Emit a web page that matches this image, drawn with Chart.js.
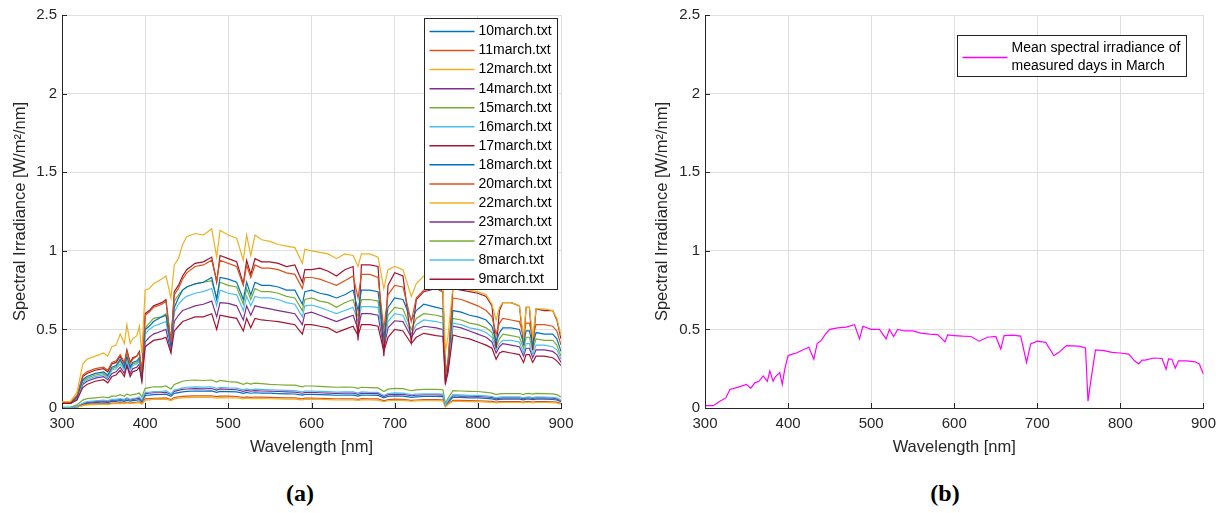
<!DOCTYPE html>
<html>
<head>
<meta charset="utf-8">
<script src="https://cdn.jsdelivr.net/npm/chart.js@4.4.1/dist/chart.umd.min.js"></script>
<style>
  body {
    margin: 0;
    background: #fff;
    width: 1223px;
    height: 513px;
    position: relative;
    overflow: hidden;
  }
  #panel-a { position: absolute; left: 0; top: 0; }
  #panel-b { position: absolute; left: 640px; top: 0; }
  .caption {
    position: absolute;
    top: 481px;
    transform: translateX(-50%);
    font: bold 24px "Liberation Serif", "DejaVu Serif", serif;
    line-height: 1;
    color: #000;
  }
</style>
</head>
<body>
<canvas id="panel-a" width="600" height="460"></canvas>
<canvas id="panel-b" width="583" height="460"></canvas>
<div class="caption" style="left:300px">(a)</div>
<div class="caption" style="left:945px">(b)</div>

<script>
// wavelength grid [nm]
const wavelengths = [
  300, 310, 318, 325, 330, 340, 350, 355, 360, 365,
  370, 375, 378, 382, 385, 390, 393, 396, 400, 405,
  410, 420, 425, 431, 435, 440, 445, 450, 460, 470,
  480, 486, 490, 500, 510, 518, 522, 527, 532, 540,
  550, 560, 570, 580, 589, 592, 600, 610, 620, 630,
  640, 650, 656, 660, 670, 680, 687, 692, 700, 710,
  720, 726, 735, 750, 758, 761, 764, 770, 780, 790,
  800, 810, 817, 822, 826, 830, 840, 850, 855, 858,
  862, 866, 870, 880, 890, 895, 900,
];

// spectral irradiance per measured day [W/m2/nm]
const march10 = [
  0.002, 0.002, 0.008, 0.024, 0.03, 0.034, 0.038, 0.034, 0.042, 0.042,
  0.047, 0.042, 0.05, 0.043, 0.047, 0.05, 0.053, 0.038, 0.08, 0.082,
  0.085, 0.086, 0.088, 0.074, 0.093, 0.098, 0.103, 0.106, 0.108, 0.107,
  0.109, 0.1, 0.106, 0.104, 0.102, 0.093, 0.099, 0.094, 0.097, 0.095,
  0.094, 0.092, 0.09, 0.089, 0.082, 0.087, 0.087, 0.085, 0.083, 0.081,
  0.082, 0.082, 0.076, 0.082, 0.081, 0.08, 0.064, 0.074, 0.077, 0.076,
  0.068, 0.071, 0.073, 0.073, 0.072, 0.015, 0.035, 0.068, 0.067, 0.065,
  0.064, 0.061, 0.058, 0.052, 0.055, 0.057, 0.057, 0.057, 0.052, 0.056,
  0.057, 0.053, 0.057, 0.056, 0.054, 0.051, 0.04,
];
const march11 = [
  0.001, 0.001, 0.006, 0.018, 0.023, 0.026, 0.028, 0.026, 0.031, 0.031,
  0.035, 0.031, 0.037, 0.032, 0.035, 0.037, 0.039, 0.028, 0.058, 0.06,
  0.062, 0.063, 0.064, 0.054, 0.067, 0.071, 0.074, 0.076, 0.077, 0.077,
  0.078, 0.072, 0.076, 0.075, 0.073, 0.067, 0.071, 0.068, 0.07, 0.069,
  0.068, 0.066, 0.065, 0.064, 0.059, 0.063, 0.063, 0.062, 0.06, 0.059,
  0.059, 0.059, 0.055, 0.059, 0.058, 0.058, 0.046, 0.053, 0.056, 0.055,
  0.049, 0.051, 0.053, 0.053, 0.052, 0.01, 0.025, 0.049, 0.048, 0.047,
  0.046, 0.044, 0.042, 0.037, 0.04, 0.041, 0.041, 0.041, 0.037, 0.04,
  0.041, 0.038, 0.041, 0.04, 0.039, 0.037, 0.029,
];
const march12 = [
  0.001, 0.001, 0.005, 0.015, 0.02, 0.022, 0.024, 0.022, 0.027, 0.027,
  0.03, 0.027, 0.032, 0.028, 0.03, 0.032, 0.034, 0.024, 0.05, 0.052,
  0.054, 0.055, 0.056, 0.047, 0.058, 0.062, 0.065, 0.066, 0.067, 0.067,
  0.068, 0.063, 0.066, 0.065, 0.064, 0.058, 0.062, 0.059, 0.061, 0.06,
  0.059, 0.058, 0.057, 0.056, 0.052, 0.055, 0.055, 0.054, 0.053, 0.051,
  0.052, 0.052, 0.048, 0.052, 0.051, 0.05, 0.04, 0.046, 0.049, 0.048,
  0.043, 0.045, 0.046, 0.046, 0.045, 0.008, 0.022, 0.043, 0.042, 0.041,
  0.04, 0.038, 0.036, 0.032, 0.034, 0.035, 0.035, 0.035, 0.032, 0.035,
  0.035, 0.033, 0.035, 0.035, 0.034, 0.032, 0.025,
];
const march14 = [
  0.03, 0.03, 0.055, 0.15, 0.17, 0.19, 0.2, 0.18, 0.22, 0.23,
  0.26, 0.22, 0.28, 0.22, 0.25, 0.26, 0.28, 0.18, 0.42, 0.45,
  0.47, 0.49, 0.5, 0.36, 0.55, 0.59, 0.62, 0.63, 0.65, 0.66,
  0.68, 0.58, 0.67, 0.665, 0.65, 0.56, 0.65, 0.59, 0.65, 0.64,
  0.63, 0.62, 0.61, 0.6, 0.53, 0.6, 0.61, 0.59, 0.57, 0.55,
  0.57, 0.59, 0.5, 0.6, 0.6, 0.59, 0.38, 0.51, 0.555, 0.55,
  0.45, 0.5, 0.52, 0.51, 0.5, 0.18, 0.24, 0.52, 0.51, 0.49,
  0.47, 0.45, 0.42, 0.35, 0.39, 0.41, 0.4, 0.39, 0.33, 0.38,
  0.38, 0.32, 0.37, 0.37, 0.36, 0.34, 0.29,
];
const march15 = [
  0.03, 0.03, 0.065, 0.17, 0.19, 0.21, 0.22, 0.2, 0.25, 0.26,
  0.3, 0.25, 0.32, 0.25, 0.28, 0.29, 0.31, 0.2, 0.51, 0.54,
  0.57, 0.58, 0.6, 0.44, 0.68, 0.72, 0.75, 0.77, 0.79, 0.8,
  0.81, 0.7, 0.8, 0.78, 0.77, 0.66, 0.76, 0.69, 0.76, 0.74,
  0.74, 0.73, 0.71, 0.7, 0.62, 0.69, 0.7, 0.68, 0.67, 0.64,
  0.67, 0.69, 0.58, 0.69, 0.69, 0.68, 0.42, 0.59, 0.64, 0.63,
  0.5, 0.57, 0.6, 0.59, 0.58, 0.2, 0.26, 0.57, 0.56, 0.54,
  0.53, 0.51, 0.48, 0.39, 0.44, 0.47, 0.46, 0.45, 0.38, 0.45,
  0.45, 0.37, 0.44, 0.43, 0.43, 0.4, 0.33,
];
const march16 = [
  0.03, 0.03, 0.06, 0.16, 0.18, 0.2, 0.21, 0.19, 0.24, 0.25,
  0.28, 0.24, 0.3, 0.24, 0.27, 0.28, 0.3, 0.19, 0.47, 0.5,
  0.52, 0.54, 0.55, 0.38, 0.61, 0.66, 0.69, 0.71, 0.73, 0.74,
  0.76, 0.65, 0.75, 0.73, 0.72, 0.62, 0.71, 0.65, 0.71, 0.7,
  0.7, 0.69, 0.67, 0.66, 0.58, 0.65, 0.655, 0.64, 0.62, 0.6,
  0.62, 0.64, 0.55, 0.645, 0.645, 0.64, 0.4, 0.55, 0.6, 0.59,
  0.47, 0.53, 0.56, 0.55, 0.54, 0.19, 0.25, 0.54, 0.53, 0.51,
  0.5, 0.48, 0.45, 0.37, 0.41, 0.43, 0.43, 0.42, 0.35, 0.41,
  0.41, 0.34, 0.4, 0.4, 0.39, 0.37, 0.31,
];
const march17 = [
  0.03, 0.03, 0.07, 0.2, 0.22, 0.24, 0.25, 0.23, 0.28, 0.29,
  0.33, 0.28, 0.37, 0.29, 0.32, 0.33, 0.36, 0.22, 0.6, 0.62,
  0.65, 0.67, 0.69, 0.4, 0.74, 0.78, 0.84, 0.88, 0.92, 0.93,
  0.96, 0.8, 0.97, 0.95, 0.93, 0.79, 0.94, 0.85, 0.95, 0.93,
  0.93, 0.92, 0.9, 0.91, 0.8, 0.88, 0.88, 0.89, 0.87, 0.84,
  0.88, 0.9, 0.43, 0.91, 0.91, 0.9, 0.33, 0.78, 0.86, 0.84,
  0.42, 0.69, 0.74, 0.76, 0.74, 0.15, 0.25, 0.76, 0.75, 0.74,
  0.73, 0.71, 0.65, 0.38, 0.62, 0.67, 0.67, 0.65, 0.4, 0.64,
  0.64, 0.37, 0.63, 0.62, 0.62, 0.56, 0.44,
];
const march18 = [
  0.03, 0.03, 0.07, 0.18, 0.2, 0.22, 0.23, 0.21, 0.26, 0.27,
  0.31, 0.26, 0.33, 0.26, 0.29, 0.3, 0.32, 0.21, 0.5, 0.52,
  0.55, 0.58, 0.59, 0.39, 0.64, 0.7, 0.75, 0.77, 0.79, 0.8,
  0.83, 0.69, 0.83, 0.82, 0.8, 0.69, 0.8, 0.72, 0.8, 0.78,
  0.78, 0.77, 0.75, 0.75, 0.66, 0.74, 0.75, 0.73, 0.72, 0.7,
  0.72, 0.75, 0.62, 0.75, 0.75, 0.74, 0.45, 0.64, 0.7, 0.69,
  0.56, 0.62, 0.66, 0.64, 0.63, 0.22, 0.28, 0.62, 0.61, 0.59,
  0.58, 0.56, 0.52, 0.42, 0.48, 0.51, 0.51, 0.5, 0.41, 0.49,
  0.49, 0.4, 0.48, 0.47, 0.47, 0.44, 0.36,
];
const march20 = [
  0.035, 0.035, 0.08, 0.21, 0.23, 0.25, 0.26, 0.24, 0.29, 0.3,
  0.34, 0.29, 0.36, 0.28, 0.31, 0.33, 0.35, 0.23, 0.59, 0.61,
  0.64, 0.66, 0.68, 0.42, 0.72, 0.76, 0.82, 0.86, 0.9, 0.91,
  0.94, 0.81, 0.94, 0.92, 0.9, 0.78, 0.91, 0.83, 0.91, 0.89,
  0.89, 0.88, 0.86, 0.85, 0.76, 0.83, 0.83, 0.82, 0.8, 0.78,
  0.81, 0.84, 0.7, 0.85, 0.85, 0.83, 0.5, 0.72, 0.78, 0.77,
  0.55, 0.7, 0.75, 0.76, 0.74, 0.22, 0.3, 0.7, 0.69, 0.67,
  0.65, 0.62, 0.58, 0.47, 0.54, 0.57, 0.56, 0.55, 0.46, 0.54,
  0.54, 0.45, 0.53, 0.53, 0.52, 0.49, 0.4,
];
const march22 = [
  0.04, 0.04, 0.1, 0.28, 0.31, 0.33, 0.35, 0.33, 0.39, 0.4,
  0.47, 0.41, 0.53, 0.41, 0.44, 0.46, 0.52, 0.35, 0.75, 0.76,
  0.79, 0.82, 0.84, 0.7, 0.91, 0.95, 1.04, 1.09, 1.11, 1.1,
  1.14, 0.96, 1.13, 1.1, 1.08, 0.94, 1.1, 0.97, 1.1, 1.07,
  1.06, 1.04, 1.03, 1.02, 0.92, 1.01, 1.0, 0.99, 0.98, 0.95,
  0.98, 0.97, 0.9, 0.98, 0.98, 0.96, 0.76, 0.88, 0.9, 0.88,
  0.71, 0.79, 0.84, 0.82, 0.78, 0.36, 0.45, 0.77, 0.76, 0.75,
  0.74, 0.72, 0.66, 0.56, 0.64, 0.67, 0.67, 0.65, 0.45, 0.64,
  0.64, 0.45, 0.63, 0.63, 0.62, 0.57, 0.46,
];
const march23 = [
  0.002, 0.002, 0.01, 0.028, 0.036, 0.04, 0.045, 0.04, 0.05, 0.05,
  0.055, 0.05, 0.06, 0.05, 0.055, 0.06, 0.063, 0.045, 0.092, 0.094,
  0.097, 0.098, 0.1, 0.085, 0.106, 0.112, 0.118, 0.121, 0.123, 0.122,
  0.124, 0.114, 0.121, 0.118, 0.116, 0.106, 0.112, 0.107, 0.11, 0.108,
  0.107, 0.105, 0.103, 0.101, 0.094, 0.099, 0.099, 0.097, 0.095, 0.093,
  0.094, 0.094, 0.087, 0.094, 0.092, 0.091, 0.073, 0.085, 0.088, 0.087,
  0.078, 0.081, 0.083, 0.083, 0.082, 0.018, 0.04, 0.078, 0.076, 0.075,
  0.073, 0.07, 0.067, 0.06, 0.063, 0.065, 0.065, 0.065, 0.06, 0.064,
  0.065, 0.061, 0.065, 0.064, 0.062, 0.058, 0.046,
];
const march27 = [
  0.005, 0.005, 0.02, 0.05, 0.06, 0.065, 0.07, 0.065, 0.075, 0.075,
  0.085, 0.075, 0.09, 0.08, 0.085, 0.09, 0.095, 0.07, 0.125, 0.13,
  0.135, 0.135, 0.14, 0.12, 0.15, 0.16, 0.17, 0.175, 0.178, 0.175,
  0.178, 0.165, 0.175, 0.168, 0.165, 0.15, 0.16, 0.152, 0.158, 0.155,
  0.15, 0.148, 0.146, 0.145, 0.135, 0.14, 0.14, 0.138, 0.135, 0.132,
  0.133, 0.132, 0.125, 0.132, 0.13, 0.128, 0.105, 0.12, 0.125, 0.123,
  0.11, 0.115, 0.118, 0.118, 0.116, 0.03, 0.06, 0.11, 0.108, 0.106,
  0.105, 0.1, 0.095, 0.085, 0.09, 0.092, 0.092, 0.092, 0.085, 0.092,
  0.093, 0.088, 0.093, 0.092, 0.09, 0.085, 0.07,
];
const march8 = [
  0.002, 0.002, 0.01, 0.03, 0.04, 0.045, 0.05, 0.045, 0.055, 0.055,
  0.06, 0.055, 0.065, 0.055, 0.06, 0.065, 0.07, 0.05, 0.1, 0.1,
  0.105, 0.105, 0.11, 0.09, 0.115, 0.12, 0.128, 0.132, 0.134, 0.133,
  0.135, 0.125, 0.132, 0.128, 0.126, 0.115, 0.122, 0.116, 0.12, 0.118,
  0.116, 0.114, 0.112, 0.11, 0.102, 0.108, 0.108, 0.106, 0.104, 0.101,
  0.102, 0.102, 0.095, 0.102, 0.1, 0.099, 0.08, 0.092, 0.096, 0.095,
  0.085, 0.088, 0.09, 0.09, 0.089, 0.02, 0.045, 0.085, 0.083, 0.081,
  0.08, 0.077, 0.073, 0.065, 0.069, 0.071, 0.071, 0.071, 0.065, 0.07,
  0.071, 0.067, 0.071, 0.07, 0.068, 0.064, 0.05,
];
const march9 = [
  0.03, 0.03, 0.05, 0.13, 0.15, 0.17, 0.18, 0.16, 0.2, 0.21,
  0.24, 0.2, 0.27, 0.2, 0.23, 0.24, 0.26, 0.17, 0.39, 0.41,
  0.43, 0.44, 0.45, 0.35, 0.49, 0.52, 0.55, 0.56, 0.58, 0.58,
  0.6, 0.5, 0.59, 0.58, 0.57, 0.49, 0.57, 0.51, 0.57, 0.56,
  0.555, 0.55, 0.54, 0.53, 0.47, 0.53, 0.53, 0.52, 0.51, 0.48,
  0.5, 0.52, 0.46, 0.53, 0.53, 0.52, 0.36, 0.45, 0.5, 0.49,
  0.41, 0.45, 0.475, 0.46, 0.455, 0.16, 0.22, 0.465, 0.45, 0.44,
  0.42, 0.4, 0.38, 0.31, 0.35, 0.36, 0.35, 0.34, 0.29, 0.34,
  0.34, 0.29, 0.33, 0.33, 0.32, 0.3, 0.27,
];

// mean over all measured days
const marchMean = [
  0.015, 0.015, 0.043, 0.064, 0.118, 0.133, 0.15, 0.125, 0.16, 0.17,
  0.204, 0.17, 0.236, 0.17, 0.2, 0.225, 0.15, 0.247, 0.333, 0.343,
  0.35, 0.375, 0.386, 0.31, 0.41, 0.43, 0.47, 0.5, 0.51, 0.515,
  0.53, 0.44, 0.52, 0.5, 0.5, 0.44, 0.5, 0.455, 0.5, 0.49,
  0.49, 0.476, 0.47, 0.467, 0.42, 0.465, 0.461, 0.457, 0.455, 0.425,
  0.45, 0.455, 0.375, 0.461, 0.463, 0.457, 0.29, 0.408, 0.425, 0.418,
  0.333, 0.354, 0.397, 0.393, 0.382, 0.043, 0.16, 0.37, 0.365, 0.354,
  0.35, 0.343, 0.3, 0.28, 0.305, 0.305, 0.318, 0.315, 0.247, 0.312,
  0.31, 0.253, 0.3, 0.3, 0.294, 0.28, 0.215,
];

const fileNames = [
  "10march.txt", "11march.txt", "12march.txt", "14march.txt", "15march.txt",
  "16march.txt", "17march.txt", "18march.txt", "20march.txt", "22march.txt",
  "23march.txt", "27march.txt", "8march.txt", "9march.txt",
];
const daySeries = [
  march10, march11, march12, march14, march15, march16, march17,
  march18, march20, march22, march23, march27, march8, march9,
];
const meanLabel = ["Mean spectral irradiance of", "measured days in March"];

// matlab default colour order
const lineColors = ["#0072BD", "#D95319", "#EDB120", "#7E2F8E", "#77AC30", "#4DBEEE", "#A2142F"];

const xTicks = [300, 400, 500, 600, 700, 800, 900];
const yTicks = [0, 0.5, 1, 1.5, 2, 2.5];

const FONT = '"Liberation Sans", Arial, sans-serif';
const AXIS_COLOR = "#262626";

const toPoints = (values) => wavelengths.map((w, i) => ({ x: w, y: values[i] }));

// inward ticks + boxed legend inside the plot area
const axesDecor = {
  id: "axesDecor",
  afterDraw(chart, args, opts) {
    const { ctx, chartArea: area, scales } = chart;
    ctx.save();
    ctx.strokeStyle = AXIS_COLOR;
    ctx.lineWidth = 1;
    ctx.beginPath();
    yTicks.forEach((v) => {
      const py = Math.round(scales.y.getPixelForValue(v)) + 0.5;
      ctx.moveTo(area.left, py);
      ctx.lineTo(area.left + 5, py);
    });
    xTicks.forEach((v) => {
      const px = Math.round(scales.x.getPixelForValue(v)) + 0.5;
      ctx.moveTo(px, area.bottom);
      ctx.lineTo(px, area.bottom - 5);
    });
    ctx.stroke();

    const lg = opts.legend;
    if (lg) {
      const left = Math.round(area.right - lg.rightInset - lg.width) + 0.5;
      const top = Math.round(area.top + lg.topInset) + 0.5;
      ctx.fillStyle = "#fff";
      ctx.fillRect(left, top, lg.width, lg.height);
      ctx.strokeStyle = AXIS_COLOR;
      ctx.strokeRect(left, top, lg.width, lg.height);
      ctx.font = "14px " + FONT;
      ctx.textBaseline = "middle";
      ctx.textAlign = "left";
      let y = top + lg.firstRow;
      lg.entries.forEach((e) => {
        const lines = [].concat(e.text);
        const sampleY = y + ((lines.length - 1) * lg.lineHeight) / 2;
        ctx.strokeStyle = e.color;
        ctx.lineWidth = 1.5;
        ctx.beginPath();
        ctx.moveTo(left + 5, sampleY);
        ctx.lineTo(left + 50, sampleY);
        ctx.stroke();
        ctx.fillStyle = "#000";
        lines.forEach((t, k) => ctx.fillText(t, left + 54, y + k * lg.lineHeight));
        y += lg.rowHeight + (lines.length - 1) * lg.lineHeight;
      });
    }
    ctx.restore();
  },
};

function makePanel(canvasId, datasets, yWidth, yTitlePad, rightPad, legend) {
  return new Chart(document.getElementById(canvasId), {
    type: "line",
    data: { datasets },
    options: {
      responsive: false,
      animation: false,
      devicePixelRatio: 1,
      layout: { padding: { top: 15, right: rightPad, bottom: 0, left: 0 } },
      elements: { point: { radius: 0 }, line: { borderWidth: 1.2, tension: 0 } },
      plugins: {
        legend: { display: false },
        tooltip: { enabled: false },
        axesDecor: { legend },
      },
      scales: {
        x: {
          type: "linear",
          min: 300,
          max: 900,
          afterFit: (s) => { s.height = 52; },
          afterBuildTicks: (s) => { s.ticks = xTicks.map((v) => ({ value: v })); },
          ticks: {
            color: AXIS_COLOR,
            font: { family: FONT, size: 15 },
            padding: 7,
            maxRotation: 0,
            autoSkip: false,
            callback: (v) => String(v),
          },
          grid: { color: "#dfdfdf", drawTicks: false },
          border: { color: AXIS_COLOR, width: 1 },
          title: {
            display: true,
            text: "Wavelength [nm]",
            color: AXIS_COLOR,
            font: { family: FONT, size: 16.5 },
            padding: { top: 0, bottom: 3 },
          },
        },
        y: {
          min: 0,
          max: 2.5,
          afterFit: (s) => { s.width = yWidth; },
          afterBuildTicks: (s) => { s.ticks = yTicks.map((v) => ({ value: v })); },
          ticks: {
            color: AXIS_COLOR,
            font: { family: FONT, size: 15 },
            padding: 5,
            callback: (v) => String(v),
          },
          grid: { color: "#dfdfdf", drawTicks: false },
          border: { color: AXIS_COLOR, width: 1 },
          title: {
            display: true,
            text: "Spectral Irradiance [W/m\u00B2/nm]",
            color: AXIS_COLOR,
            font: { family: FONT, size: 16.5 },
            padding: { top: yTitlePad, bottom: 0 },
          },
        },
      },
    },
    plugins: [axesDecor],
  });
}

const dayDatasets = daySeries.map((values, i) => ({
  label: fileNames[i],
  data: toPoints(values),
  borderColor: lineColors[i % lineColors.length],
  order: daySeries.length - i,
}));

makePanel("panel-a", dayDatasets, 62, 10.5, 39, {
  width: 133,
  height: 271,
  rightInset: 4,
  topInset: 3,
  firstRow: 13,
  rowHeight: 19.05,
  lineHeight: 18,
  entries: dayDatasets.map((d) => ({ text: d.label, color: d.borderColor })),
});

makePanel("panel-b", [{
  label: meanLabel.join(" "),
  data: toPoints(marchMean),
  borderColor: "#FF00FF",
}], 65, 12.5, 19, {
  width: 229,
  height: 41,
  rightInset: 17,
  topInset: 20,
  firstRow: 13,
  rowHeight: 19,
  lineHeight: 18,
  entries: [{ text: meanLabel, color: "#FF00FF" }],
});
</script>
</body>
</html>
